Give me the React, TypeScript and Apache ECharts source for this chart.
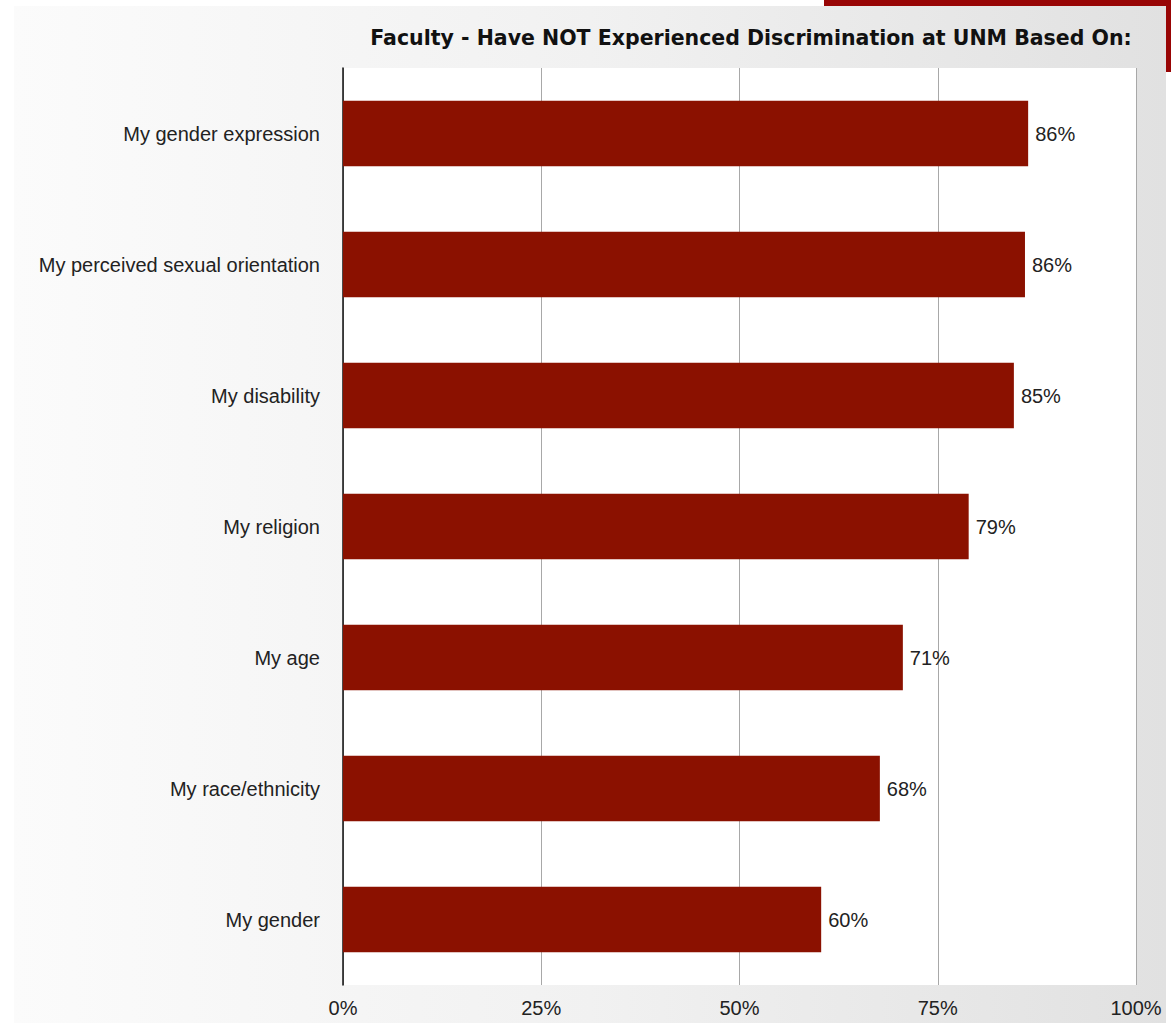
import React, { useEffect, useRef } from "react";
import * as echarts from "echarts";

const title = "Faculty - Have NOT Experienced Discrimination at UNM Based On:";
const categories = [
  "My gender expression",
  "My perceived sexual orientation",
  "My disability",
  "My religion",
  "My age",
  "My race/ethnicity",
  "My gender",
];
const values = [86.4, 86.0, 84.6, 78.9, 70.6, 67.7, 60.3];
const xTicks = [0, 25, 50, 75, 100];

export default function App() {
  const ref = useRef<HTMLDivElement>(null);
  useEffect(() => {
    const chart = echarts.init(ref.current!, null, { renderer: "svg" });
    const font = "'Liberation Sans', Arial, Helvetica, sans-serif";
    chart.setOption({
      animation: false,
      textStyle: { fontFamily: font },
      title: {
        text: title,
        left: 746,
        textAlign: "center",
        top: 22,
        textStyle: { fontFamily: "'DejaVu Sans', sans-serif", fontSize: 20.5, fontWeight: "bold", color: "#111" },
      },
      graphic: [
        {
          type: "rect",
          z: -20,
          silent: true,
          shape: { x: 824, y: 0, width: 347, height: 72 },
          style: { fill: "#980505" },
        },
        {
          type: "rect",
          z: -10,
          silent: true,
          shape: { x: 14, y: 6, width: 1152, height: 1017 },
          style: {
            fill: new echarts.graphic.LinearGradient(0, 0, 1, 0, [
              { offset: 0, color: "#fbfbfb" },
              { offset: 0.5, color: "#f1f1f1" },
              { offset: 1, color: "#e1e1e1" },
            ]),
          },
        },
      ],
      grid: {
        left: 343,
        right: 37,
        top: 68,
        bottom: 38,
        show: true,
        backgroundColor: "#ffffff",
        borderWidth: 0,
      },
      xAxis: {
        type: "value",
        min: 0,
        max: 100,
        interval: 25,
        axisLine: { show: false },
        axisTick: { show: false },
        splitLine: { show: true, lineStyle: { color: "#a8a8a8", width: 1 } },
        axisLabel: {
          formatter: (v: number) => (xTicks.includes(v) ? v + "%" : ""),
          fontSize: 20,
          color: "#222",
          margin: 13,
          fontFamily: font,
        },
      },
      yAxis: {
        type: "category",
        data: categories,
        inverse: true,
        axisLine: { show: true, lineStyle: { color: "#111", width: 1.5 } },
        axisTick: { show: false },
        axisLabel: { fontSize: 20, color: "#222", margin: 23, fontFamily: font },
      },
      series: [
        {
          type: "bar",
          data: values,
          barWidth: "50%",
          itemStyle: { color: "#8b1100" },
          label: {
            show: true,
            position: "right",
            distance: 7,
            formatter: (p: any) => Math.round(p.value) + "%",
            fontSize: 20,
            color: "#222",
            fontFamily: font,
          },
        },
      ],
    });
    return () => chart.dispose();
  }, []);
  return (
    <div
      ref={ref}
      style={{ position: "absolute", left: 0, top: 0, width: 1173, height: 1023, background: "#fff" }}
    />
  );
}
